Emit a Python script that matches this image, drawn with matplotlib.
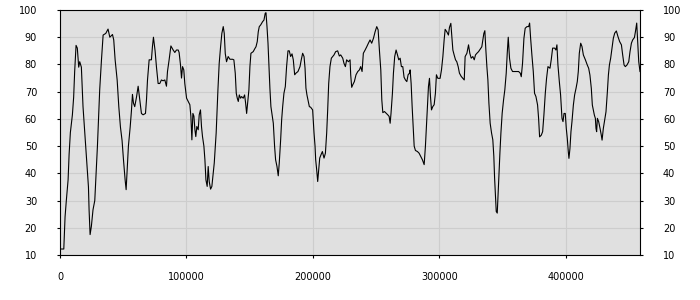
import matplotlib
matplotlib.use("Agg")
import matplotlib.pyplot as plt

# values
xs = [0, 3000, 4000, 5000, 6400, 7200, 8200, 9800, 10800, 11600, 12700, 13700,
      14800, 15600, 16900, 18200, 19600, 21400, 22500, 23000, 23800, 24800,
      26100, 27500, 28800, 29600, 30600, 31400, 32800, 34100, 36200, 38000,
      39400, 41500, 42500, 43600, 45200, 46500, 47800, 49100, 50200, 51500,
      52300, 53100, 54100, 55500, 56500, 57300, 58100, 59100, 60500, 61800,
      63100, 64400, 65700, 67600, 68400, 69200, 70500, 72300, 73100, 73900,
      75200, 76300, 77600, 78900, 80200, 81500, 82900, 84200, 85000, 86300,
      87700, 89500, 90800, 92100, 93500, 94200, 95300, 96100, 96900, 97900,
      98700, 100100, 101400, 102700, 103500, 104300, 105100, 105900, 106700,
      107400, 108200, 109300, 110100, 111100, 111900, 112700, 113800, 114600,
      115400, 116400, 117200, 118000, 119100, 120100, 121200, 122000, 122800,
      123500, 124100, 124900, 125900, 127000, 128000, 129100, 129900, 130700,
      131700, 133000, 134400, 136500, 137500, 138600, 139400, 140200, 141000,
      141800, 142800, 143600, 144900, 146000, 146800, 147600, 148600, 149400,
      150200, 151000, 152800, 154200, 155000, 156000, 156800, 157600, 158700,
      160200, 161300, 162300, 162900, 163700, 164500, 165300, 166000, 166800,
      167600, 168700, 169700, 170500, 171600, 172600, 173400, 174500, 175300,
      176100, 177100, 178200, 179200, 180300, 181300, 182400, 183500, 184500,
      185600, 186600, 188200, 189800, 190800, 191900, 193000, 193800, 194500,
      195300, 196100, 197200, 198200, 199800, 200900, 201700, 202200, 203000,
      203800, 204600, 205400, 206400, 207500, 208800, 209900, 210900, 211700,
      212500, 213500, 214600, 215700, 216700, 218000, 219600, 220900, 222000,
      223600, 224600, 225700, 226700, 228100, 229400, 229900, 230700, 231500,
      232800, 234100, 235500, 236800, 237800, 238900, 239900, 241300, 242600,
      243900, 245200, 246500, 247900, 249200, 250500, 251600, 252600, 253700,
      254500, 255300, 256600, 257900, 259200, 260300, 261100, 261800, 262900,
      263700, 264700, 265800, 266900, 267900, 269000, 270000, 271100, 272100,
      273200, 274300, 275300, 276400, 276900, 277700, 278500, 279300, 280100,
      281100, 282700, 284000, 285300, 286600, 288000, 289000, 289800, 290600,
      291400, 292200, 293000, 293800, 294800, 295900, 296900, 297700, 298800,
      300600, 301700, 302800, 303800, 304600, 305900, 307200, 308000, 309100,
      309900, 310700, 311700, 312800, 313800, 314900, 315900, 317300, 318600,
      319700, 320400, 321800, 323100, 324100, 325200, 326500, 327600, 328600,
      329700, 331000, 332300, 333600, 334400, 335200, 336000, 336800, 337600,
      338400, 339200, 340200, 341300, 342300, 343100, 343700, 344500, 345000,
      345800, 346300, 347100, 347900, 348700, 349700, 350800, 351800, 352900,
      353700, 354500, 355500, 356600, 357900, 362700, 364000, 364800, 365800,
      366900, 367900, 369300, 370600, 371400, 372200, 373200, 374300, 375300,
      376400, 377700, 378500, 379300, 380600, 381700, 382700, 383800, 384800,
      385900, 387500, 388500, 389600, 391200, 392200, 393000, 393800, 394900,
      395900, 397000, 397800, 398600, 399600, 400400, 401200, 402000, 402500,
      403300, 404100, 404900, 406000, 407000, 408100, 409100, 409900, 410700,
      411800, 412800, 413900, 415500, 417000, 418100, 419100, 420200, 421000,
      421800, 422600, 423400, 423900, 424400, 425000, 426000, 427100, 428100,
      428700, 429700, 430800, 431800, 432900, 433700, 434500, 435500, 436600,
      437600, 438700, 440000, 441300, 442600, 444000, 445000, 446100, 447100,
      448400, 449800, 450800, 451900, 452900, 454300, 455100, 456100, 456900,
      457700, 458700]

ys = [12.2, 12.2, 24, 30, 37.6, 47, 55, 61.5, 68, 77.4, 87, 86,
      79, 81, 79, 64.5, 55, 42.5, 35, 26.6, 17.5, 20.5,
      26.6, 30, 42.5, 50, 62, 70.7, 81.7, 90.8, 91.4, 93,
      90, 91, 89, 81.7, 74.3, 64.5, 57, 52, 45, 37.6,
      34, 41, 50, 57, 63, 69, 65.8, 64.5, 68, 72,
      67, 62, 61.5, 62, 67, 74.3, 81.7, 81.7, 86.5, 90,
      85, 79, 73, 73, 74.3, 74, 74.3, 72, 77.4, 81.7,
      86.8, 85.3, 84.4, 85.3, 85.3, 84.4, 79.8, 75, 79.2, 78,
      73, 67.6, 66.4, 65.2, 61, 52.3, 62, 61, 56,
      53.5, 57.2, 56, 61.5, 63.3, 57.2, 53.5, 50, 45,
      37.6, 35.2, 42.5, 37, 34.2, 35.2, 40, 43.8, 50,
      54.8, 62, 70.7, 80.4, 86.5, 91.4, 93.9, 91.4, 84,
      81, 82.9, 81.9, 81.9, 81.7, 76.8, 69.4, 67.6, 66.4,
      68.8, 67.6, 68.2, 67.6, 68.8, 65.8, 62, 67, 70.7,
      79.2, 84.1, 84.7, 85.9, 86.5, 88.4, 92, 93.9, 94.5,
      95.7, 96.3, 98.8, 99, 93.9, 87.8, 79.2, 71.3, 64.5,
      62, 58.4, 50, 45, 42.5, 39.1, 43.8, 52.3, 59.7,
      64.5, 69.4, 71.9, 79.2, 85, 85, 82.9, 83.9, 81.7,
      76.2, 76.8, 77.4, 79.2, 81.7, 84.1, 82.9, 78.6, 71.3,
      68.8, 67, 64.5, 64.3, 63.3, 54.8, 50, 45, 41.3,
      37, 41.3, 45.6, 46.8, 48, 45.6, 47.4, 54.8, 63.3,
      73, 79.2, 82.3, 82.9, 83.5, 84.7, 85, 83.1, 83.5,
      82.3, 80.4, 79.2, 81.7, 81, 81.7, 76.2, 71.6, 72.5,
      73.7, 76.2, 77.4, 78, 79.2, 77.4, 84.1, 85.3, 86.5,
      87.8, 89, 87.8, 89.6, 92, 93.9, 92.7, 85.3, 78,
      67, 62.3, 62.7, 62.1, 61.5, 60.9, 58.4, 62.1, 69.4,
      76.8, 82.9, 85.3, 83.5, 81.7, 82.3, 79.2, 79.2, 75.3,
      74.3, 73.7, 76.2, 76.8, 78, 73, 64.5, 57.2, 50,
      48.4, 48, 47.4, 46.2, 45, 43.2, 50, 57.2, 64.5,
      71.9, 74.9, 68.2, 63.3, 64.5, 65.2, 69.4, 76.2, 74.9,
      74.9, 78, 82.9, 89, 92.9, 92, 90.8, 93.6, 95.1,
      90.2, 85.3, 83.5, 81.7, 81, 79.2, 76.8, 75.6, 74.9,
      74.3, 82.9, 84.1, 87.2, 84.1, 82.3, 82.9, 81.7, 83.5,
      84.1, 84.7, 85.6, 86.5, 89, 91.4, 92.4, 85.3, 79.2,
      74.3, 65.8, 58.4, 54.8, 52.3, 46.2, 38.3, 30.3, 26,
      25.4, 30.3, 38.9, 47.4, 54.8, 62.1, 67, 70.7, 76.8,
      84.1, 90, 82.3, 78.6, 77.4, 77.4, 76.8, 75.5, 80.4,
      89.6, 93.3, 93.9, 93.9, 95.2, 89.6, 83.5, 77.4, 69.4,
      68.2, 65.1, 60.2, 53.4, 54, 55.3, 61.4, 69.4, 74.9,
      79.2, 78.6, 81.7, 86, 86, 85.3, 87.2, 79.8, 73.7,
      68.8, 60.2, 59, 62, 62, 56.5, 52.8, 47.9, 45.5,
      49.1, 55.3, 59, 65.1, 68.8, 71.2, 73.7, 77.4, 84.1,
      87.8, 86.6, 83.5, 81.7, 79.8, 78.6, 76.1, 71.2, 65.1,
      63.3, 61.4, 60.2, 56.5, 55.3, 60.2, 59, 56.5, 54,
      52.2, 56.5, 59.6, 62.6, 70, 76.1, 79.8, 82.3, 86,
      89.6, 91.5, 92.3, 90.2, 88.4, 87.2, 83.5, 79.8, 79.2,
      79.8, 81, 84.7, 87.8, 89, 89.9, 92.1, 95.2, 88.4,
      81, 77.4]

x_ticks = [0, 100000, 200000, 300000, 400000]
y_ticks = [10, 20, 30, 40, 50, 60, 70, 80, 90, 100]

fig = plt.figure(figsize=(7, 3), dpi=100)
ax = fig.add_axes([60 / 700, 45 / 300, 580 / 700, 245 / 300])
ax.set_facecolor("#e0e0e0")
ax.plot(xs, ys, color="black", lw=0.8)

ax.set_xlim(0, 458700)
ax.set_ylim(10, 100)
ax.set_xticks(x_ticks)
ax.set_xticklabels([str(v) for v in x_ticks])
ax.set_yticks(y_ticks)
ax.grid(True, color="#cdcdcd", lw=0.8)
ax.set_axisbelow(True)

ax.tick_params(axis="x", length=2.5, width=0.8, pad=9.5, labelsize=7)
ax.tick_params(axis="y", length=2.5, width=0.8, pad=14, labelsize=7,
               right=True, labelright=True)
for s in ax.spines.values():
    s.set_color("black")
    s.set_linewidth(0.8)

fig.savefig("out.png", dpi=100)
